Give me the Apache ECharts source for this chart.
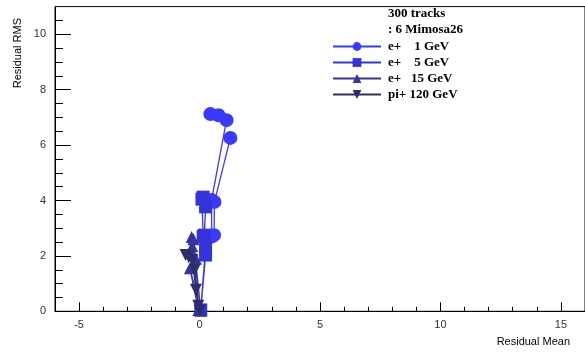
<!DOCTYPE html>
<html><head><meta charset="utf-8">
<script src="https://cdn.jsdelivr.net/npm/echarts@6/dist/echarts.min.js"></script>
<style>html,body{margin:0;padding:0;background:#fff}#c{width:585px;height:352px}</style>
</head><body><div id="c"></div>
<script>
// Series data: [Residual Mean, Residual RMS]
const seriesNames = ['e+    1 GeV', 'e+    5 GeV', 'e+   15 GeV', 'pi+ 120 GeV'];
const e1GeV = [[0.45,7.12],[0.79,7.08],[1.12,6.9],[0.5,4.02],[0.5,2.7],[0.6,2.75],[0.62,3.95],[1.28,6.26]];
const e5GeV = [[0.15,4.12],[0.25,3.77],[0.2,2.75],[0.25,2.3],[0.05,0.05],[0.25,2.03],[0.15,2.7],[0.1,4.05]];
const e15GeV = [[-0.33,2.68],[-0.3,2.35],[-0.15,1.9],[-0.05,0.05],[-0.4,1.55],[0.05,0.02],[-0.25,2.6]];
const pi120GeV = [[-0.58,2.03],[-0.3,1.85],[-0.15,0.78],[0.0,0.02],[-0.05,0.2],[-0.2,1.5],[-0.45,1.95]];
const xMajorTicks = [-5, 0, 5, 10, 15];
const xMinorTicks = [-6,-4,-3,-2,-1,1,2,3,4,6,7,8,9,11,12,13,14,16];
const yMinorTicks = [0.5,1,1.5,2.5,3,3.5,4.5,5,5.5,6.5,7,7.5,8.5,9,9.5,10.5];
const headerLines = ['300 tracks', ': 6 Mimosa26'];

const colors = ['#3a3aff', '#3434dc', '#34349c', '#2e2e6c'];
const symbols = ['circle', 'rect', 'triangle', 'path://M0,0 L10,0 L5,9 Z'];
const sizes = [14, 13, 12, 12];
const datas = [e1GeV, e5GeV, e15GeV, pi120GeV];

const chart = echarts.init(document.getElementById('c'), null, {renderer: 'canvas'});
const labelFont = {color: '#333', fontFamily: 'Liberation Sans', fontSize: 11};
const axisCommon = {
  type: 'value', splitLine: {show: false},
  axisLine: {show: true, onZero: false, lineStyle: {color: '#000', width: 1}}
};
chart.setOption({
  animation: false,
  grid: {left: 55, right: -3, top: 6.6, bottom: 40.7, show: true, borderColor: '#000', borderWidth: 1},
  xAxis: [
    Object.assign({}, axisCommon, {min: -6, max: 16,
      axisTick: {inside: true, length: 9, customValues: xMajorTicks, lineStyle: {color: '#000'}},
      axisLabel: Object.assign({customValues: xMajorTicks, margin: 8}, labelFont)}),
    Object.assign({}, axisCommon, {min: -6, max: 16, position: 'bottom',
      axisLine: {show: false, onZero: false},
      axisTick: {inside: true, length: 4.5, customValues: xMinorTicks, lineStyle: {color: '#000'}},
      axisLabel: {show: false}})
  ],
  yAxis: [
    Object.assign({}, axisCommon, {min: 0, max: 11, interval: 2,
      axisTick: {inside: true, length: 16, lineStyle: {color: '#000'}},
      axisLabel: Object.assign({margin: 9, showMaxLabel: false}, labelFont)}),
    Object.assign({}, axisCommon, {min: 0, max: 11, position: 'left',
      axisLine: {show: false, onZero: false},
      axisTick: {inside: true, length: 8, customValues: yMinorTicks, lineStyle: {color: '#000'}},
      axisLabel: {show: false}})
  ],
  legend: {
    orient: 'vertical', left: 327, top: 35, itemWidth: 48, itemHeight: 11, itemGap: 3,
    data: seriesNames,
    textStyle: {fontFamily: 'Liberation Serif', fontWeight: 'bold', fontSize: 13, color: '#000', padding: [0, 0, 0, 2]}
  },
  graphic: [
    {type: 'text', left: 388, top: 7, style: {text: headerLines[0], font: 'bold 13px "Liberation Serif"', fill: '#000'}},
    {type: 'text', left: 388, top: 23, style: {text: headerLines[1], font: 'bold 13px "Liberation Serif"', fill: '#000'}},
    {type: 'text', x: 12, y: 18, rotation: Math.PI / 2, style: {text: 'Residual RMS', font: '11px "Liberation Sans"', fill: '#000', align: 'right', verticalAlign: 'top'}},
    {type: 'text', x: 570, y: 336, style: {text: 'Residual Mean', font: '11px "Liberation Sans"', fill: '#000', align: 'right', verticalAlign: 'top'}}
  ],
  series: datas.map((d, i) => ({
    name: seriesNames[i], type: 'line', data: d, xAxisIndex: 0, yAxisIndex: 0,
    symbol: symbols[i], symbolSize: sizes[i], showAllSymbol: true,
    itemStyle: {color: colors[i]}, lineStyle: {color: colors[i], width: 1.3}
  }))
});
</script></body></html>
